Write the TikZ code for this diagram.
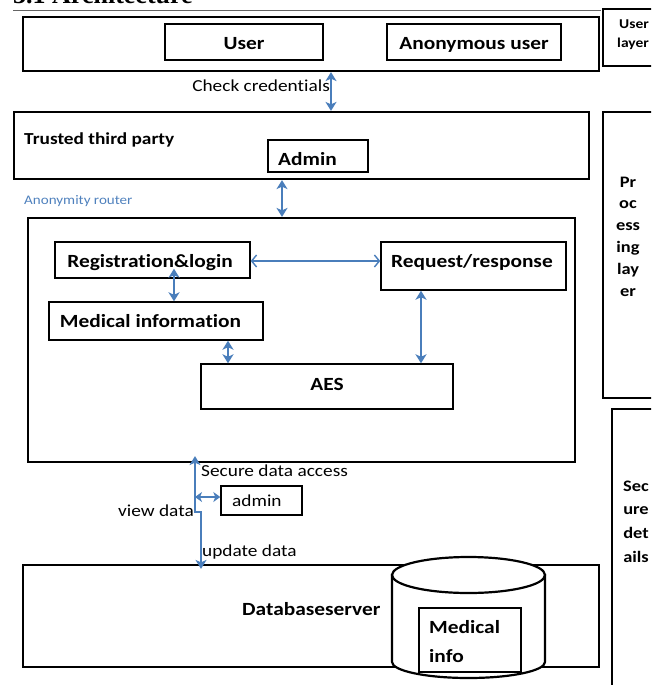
\documentclass[tikz,border=0pt]{standalone}
\usepackage{fontspec}
\setmainfont{Carlito}[FakeStretch=1.15,Ligatures=NoCommon]
\newfontfamily\headfont{Liberation Serif}
\usetikzlibrary{arrows.meta,fit}
\definecolor{arrblue}{RGB}{74,126,187}
\definecolor{lblue}{RGB}{79,129,189}
\definecolor{rulegray}{RGB}{100,100,100}
\begin{document}
\begin{tikzpicture}[x=1pt,y=-1pt,
  outerbox/.style={draw, line width=2.2pt, inner sep=0pt},
  innerbox/.style={draw, line width=1.4pt, inner sep=0pt, fill=white},
  blab/.style={font=\bfseries\fontsize{18.6}{22}\selectfont, inner sep=0pt, anchor=base},
  rlab/.style={font=\fontsize{16.8}{20}\selectfont, inner sep=0pt, anchor=base},
  sidelab/.style={font=\bfseries\fontsize{16}{18}\selectfont, inner sep=0pt, anchor=base},
  tipb/.tip={Stealth[length=9pt,width=11pt,inset=2.5pt]},
  arr/.style={draw=arrblue, line width=2.4pt, tipb-tipb},
  barbarr/.style={draw=arrblue, line width=2.4pt, {Straight Barb[length=5pt,width=12pt,line width=1.4pt]}-{Straight Barb[length=5pt,width=12pt,line width=1.4pt]}},
  smallarr/.style={draw=arrblue, line width=2.4pt, {Stealth[length=7pt,width=10pt,inset=2pt]}-{Stealth[length=7pt,width=10pt,inset=2pt]}},
]
\useasboundingbox (0,0) rectangle (651,685);
\clip (0,0) rectangle (651,685);

% heading and rule
\node[font=\headfont\bfseries\fontsize{26}{30}\selectfont, anchor=base west, inner sep=0pt] (head) at (13,4) {3.1 Architecture};
\coordinate (ruleL) at (13,10.5);
\coordinate (ruleR) at (601,10.5);
\draw[rulegray, line width=1.5pt] (ruleL) -- (ruleR);

% user layer
\node[outerbox, fit={(23,17) (599,71)}] (ulbox) {};
\node[innerbox, fit={(165,24) (323,60)}] (user) {};
\node[innerbox, fit={(387,24) (561,60)}] (anon) {};
\node[blab] (userT) at (244,50) {User};
\node[blab] (anonT) at (474,50) {Anonymous user};

\node[outerbox, fit={(603,9) (680,66)}] (ulayer) {};
\node[sidelab, font=\bfseries\fontsize{13.5}{15}\selectfont, anchor=base west] (ulT1) at (619,29) {User};
\node[sidelab, font=\bfseries\fontsize{13.5}{15}\selectfont, anchor=base west] (ulT2) at (617,48) {layer};

% trusted third party
\node[outerbox, fit={(14,112) (589,179)}] (ttp) {};
\node[blab, anchor=base west, font=\bfseries\fontsize{16.8}{20}\selectfont] (ttpT) at (24,144) {Trusted third party};
\node[innerbox, fit={(268,140) (368,172)}] (admin) {};
\node[blab, anchor=base west] (adminT) at (278,165) {Admin};

\draw[arr] ([xshift=20pt]ulbox.south) -- ([xshift=29.5pt]ttp.north);
\node[rlab, anchor=base east] (ccT) at (330,92) {Check credentials};

\node[font=\fontsize{13.1}{15}\selectfont, text=lblue, anchor=base west, inner sep=0pt] (anonR) at (24,204) {Anonymity router};

% anonymity router box
\node[outerbox, fit={(28,218) (575,462)}] (router) {};
\draw[arr] ([xshift=-19.5pt]ttp.south) -- ([xshift=-19.5pt]router.north);

\node[innerbox, fit={(55,242) (250,278)}] (reg) {};
\node[blab] (regT) at (150,267) {Registration\&login};
\node[innerbox, fit={(381,242) (566,290)}] (req) {};
\node[blab] (reqT) at (472,267) {Request/response};
\node[innerbox, fit={(49,302) (263,340)}] (med) {};
\node[blab] (medT) at (150.5,327) {Medical information};
\node[innerbox, fit={(201,364) (453,409)}] (aes) {};
\node[blab] (aesT) at (327,390) {AES};

\coordinate (rr1) at ([yshift=-1pt]reg.east);
\draw[barbarr] (rr1) -- (rr1 -| req.west);
\draw[arr] ([xshift=21.5pt,yshift=10pt]reg.south) -- ([xshift=18pt]med.north);
\draw[arr] ([xshift=72pt]med.south) -- ([xshift=-99pt]aes.north);
\draw[arr] ([xshift=-52.5pt]req.south) -- ([xshift=94pt]aes.north);

% processing layer
\node[outerbox, fit={(603,112) (680,398)}] (proc) {};
\node[sidelab] (p1) at (628,187) {Pr};
\node[sidelab] (p2) at (628,208) {oc};
\node[sidelab] (p3) at (628,230) {ess};
\node[sidelab] (p4) at (628,252) {ing};
\node[sidelab] (p5) at (628,274) {lay};
\node[sidelab] (p6) at (628,296) {er};

% secure details
\node[outerbox, fit={(612,409) (680,700)}] (secbox) {};
\node[sidelab] (s1) at (636,491) {Sec};
\node[sidelab] (s2) at (636,514) {ure};
\node[sidelab] (s3) at (636,538) {det};
\node[sidelab] (s4) at (636,562) {ails};

% database server
\node[outerbox, fit={(23,565) (599,667)}] (db) {};
\node[blab, anchor=base west] (dbT) at (242,615) {Databaseserver};

% cylinder
\filldraw[fill=white, line width=2.2pt]
  (392,575) -- (392,662)
  .. controls (392,670.84) and (426.25,678) .. (468.5,678)
  .. controls (510.75,678) and (545,670.84) .. (545,662)
  -- (545,575) -- cycle;
\filldraw[fill=white, line width=2.2pt]
  (392,575) .. controls (392,565.06) and (426.25,557) .. (468.5,557)
  .. controls (510.75,557) and (545,565.06) .. (545,575)
  .. controls (545,584.94) and (510.75,593) .. (468.5,593)
  .. controls (426.25,593) and (392,584.94) .. (392,575) -- cycle;
\node[innerbox, fit={(419,608) (521,672)}] (minfo) {};
\node[blab, anchor=base west] (minfoT1) at (429,633) {Medical};
\node[blab, anchor=base west] (minfoT2) at (429,662) {info};

% secure data access path
\node[innerbox, fit={(221,486) (302,515)}] (admin2) {};
\node[rlab, anchor=base west] (admin2T) at (232,506) {admin};
\coordinate (sdaTop) at ([xshift=-106.5pt,yshift=7pt]router.south);
\coordinate (jogA) at (195,512);
\coordinate (jogB) at (201,512);
\coordinate (dbEnd) at ([xshift=-110pt,yshift=-5pt]db.north);
\draw[arr, line join=miter] (sdaTop) -- (jogA) -- (jogB) -- (dbEnd);
\coordinate (adA) at (195,497);
\draw[smallarr] (adA) -- (adA -| admin2.west);

\node[rlab, anchor=base west] (sdaT) at (201,476) {Secure data access};
\node[rlab, anchor=base east] (viewT) at (194,516) {view data};
\node[rlab, anchor=base west] (updT) at (202,556) {update data};
\end{tikzpicture}
\end{document}
